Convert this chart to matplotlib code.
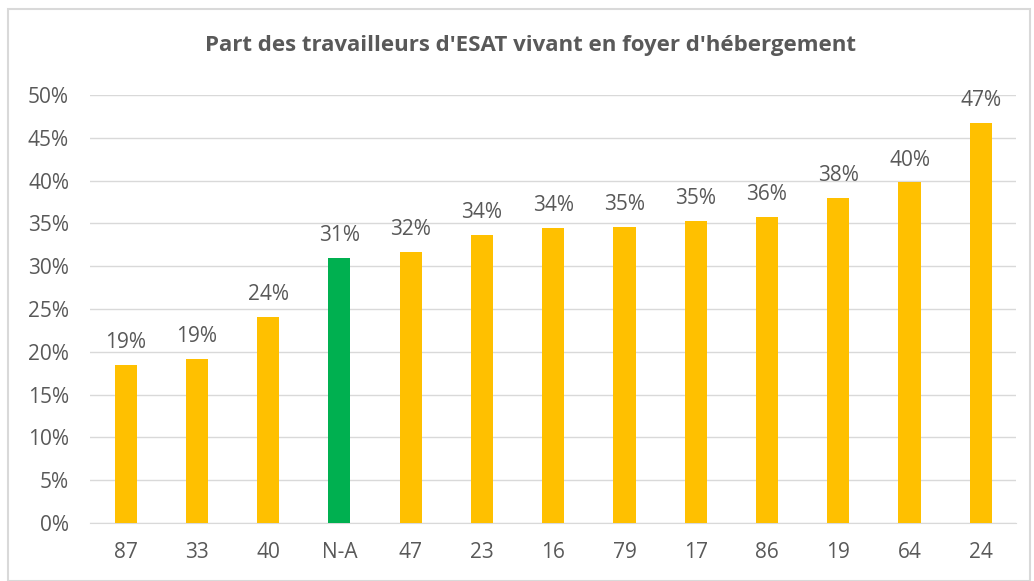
import matplotlib.pyplot as plt
from matplotlib.patches import Rectangle

departements = ["87", "33", "40", "N-A", "47", "23", "16", "79", "17", "86", "19", "64", "24"]
part_foyer = [18.5, 19.2, 24.1, 31.0, 31.7, 33.7, 34.5, 34.6, 35.3, 35.8, 38.0, 39.8, 46.7]
etiquettes = ["19%", "19%", "24%", "31%", "32%", "34%", "34%", "35%", "35%", "36%", "38%", "40%", "47%"]
reference = "N-A"

plt.rcParams['font.family'] = ['Open Sans', 'DejaVu Sans']
text_color = "#595959"

fig = plt.figure(figsize=(10.34, 5.81), dpi=100)
ax = fig.add_axes([0.087, 0.0998, 0.896, 0.7367])

couleurs = ["#00B050" if d == reference else "#FFC000" for d in departements]
x = list(range(len(departements)))
bars = ax.bar(x, part_foyer, width=0.31, color=couleurs, zorder=3)

for rect, lab in zip(bars, etiquettes):
    ax.annotate(lab, (rect.get_x() + rect.get_width() / 2, rect.get_height()),
                xytext=(0, 8.5), textcoords="offset points",
                ha="center", va="bottom", fontsize=15, color=text_color)

ax.set_xlim(-0.5, len(departements) - 0.5)
ax.set_ylim(0, 50)
ax.set_yticks(range(0, 51, 5))
ax.set_yticklabels([f"{v}%" for v in range(0, 51, 5)])
ax.set_xticks(x)
ax.set_xticklabels(departements)
ax.tick_params(axis="both", length=0, labelsize=15, labelcolor=text_color)
ax.tick_params(axis="y", pad=15)
ax.tick_params(axis="x", pad=14)
ax.grid(axis="y", color="#D9D9D9", linewidth=1, zorder=0)
for side in ["top", "right", "left"]:
    ax.spines[side].set_visible(False)
ax.spines["bottom"].set_color("#D9D9D9")

fig.text(0.513, 0.922, "Part des travailleurs d'ESAT vivant en foyer d'hébergement",
         ha="center", va="center", fontsize=16, fontweight="bold", color=text_color)

# chart frame
fig.patches.append(Rectangle((0.008, 0.0), 0.988, 0.984, transform=fig.transFigure,
                             fill=False, edgecolor="#D9D9D9", linewidth=1.5))

fig.savefig("out.png", dpi=100)
